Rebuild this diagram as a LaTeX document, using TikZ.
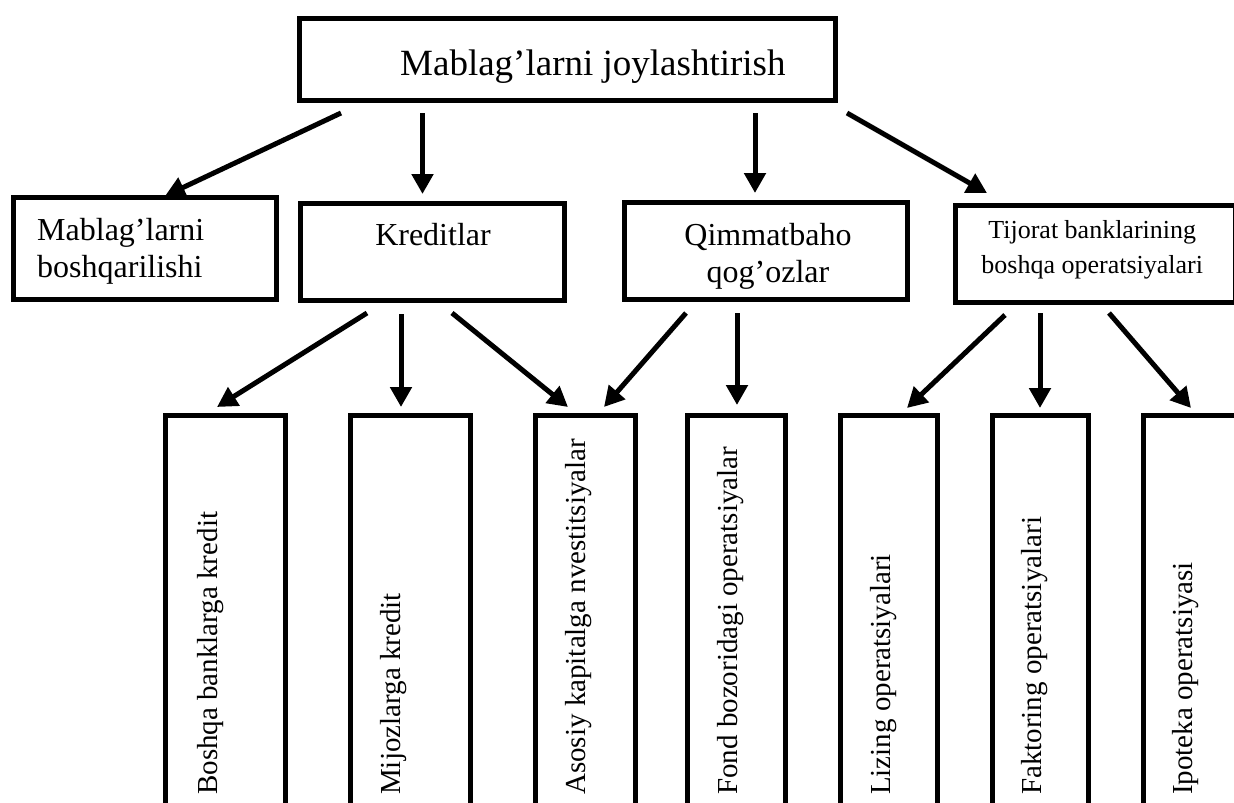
\documentclass[tikz,border=0pt]{standalone}
\usepackage{fontspec}
\setmainfont{Liberation Serif}
\usetikzlibrary{calc,arrows.meta}

\tikzset{
  box/.style={draw, line width=5pt, inner sep=0pt, outer sep=0pt},
  arr/.style={line width=5pt, -{Triangle[length=20pt,width=21pt]}},
  lbl/.style={inner sep=0pt, font=\fontsize{32}{36.8}\selectfont},
  side/.style={inner sep=0pt, rotate=90, anchor=base west, font=\fontsize{29}{33}\selectfont}
}

\begin{document}
\begin{tikzpicture}[x=1pt,y=-1pt]
		\clip (0,0) rectangle (1234,803);
		% top level
		\node[box, minimum width=536pt, minimum height=82pt] (top) at (567.5,59.5) {};
		\node[inner sep=0pt, anchor=base west, font=\fontsize{37}{44}\selectfont] (ttl) at ($(top.north west)+(100.5,56.5)$) {Mablag’larni joylashtirish};
		% second level
		\node[box, minimum width=263pt, minimum height=102pt] (mb) at (145,248.5) {};
		\node[box, minimum width=264pt, minimum height=97pt] (kred) at (432.5,252) {};
		\node[box, minimum width=283pt, minimum height=97pt] (qim) at (766,251) {};
		\node[box, minimum width=279.5pt, minimum height=97pt] (tij) at (1095.25,254) {};
		\node[lbl, anchor=north west, align=left] (mbt) at ($(mb.north west)+(23.5,20.6)$) {Mablag’larni\\boshqarilishi};
		\node[lbl, anchor=base] (kredt) at ($(kred.north)+(0.5,41.5)$) {Kreditlar};
		\node[lbl, anchor=north, align=center] (qimt) at ($(qim.north)+(2,20.6)$) {Qimmatbaho\\qog’ozlar};
		\node[lbl, anchor=north, align=center, font=\fontsize{26}{35}\selectfont] (tijt) at ($(tij.north)+(-3,14.7)$) {Tijorat banklarining\\boshqa operatsiyalari};
		% third level
		\node[box, minimum width=120pt, minimum height=414.5pt] (b1) at (225.5,622.75) {};
		\node[box, minimum width=120pt, minimum height=414.5pt] (b2) at (410.5,622.75) {};
		\node[box, minimum width=100pt, minimum height=414.5pt] (b3) at (585.5,622.75) {};
		\node[box, minimum width=98pt, minimum height=414.5pt] (b4) at (736.5,622.75) {};
		\node[box, minimum width=97pt, minimum height=414.5pt] (b5) at (889,622.75) {};
		\node[box, minimum width=96pt, minimum height=414.5pt] (b6) at (1040.5,622.75) {};
		\node[box, minimum width=97pt, minimum height=414.5pt] (b7) at (1192,622.75) {};
		\node[side] (b1t) at ($(b1.north west)+(51.5,379.5)$) {Boshqa banklarga kredit};
		\node[side] (b2t) at ($(b2.north west)+(49.5,379.5)$) {Mijozlarga kredit};
		\node[side] (b3t) at ($(b3.north west)+(49.5,379.5)$) {Asosiy kapitalga nvestitsiyalar};
		\node[side] (b4t) at ($(b4.north west)+(49.5,379.5)$) {Fond bozoridagi operatsiyalar};
		\node[side] (b5t) at ($(b5.north west)+(49.5,379.5)$) {Lizing operatsiyalari};
		\node[side] (b6t) at ($(b6.north west)+(48.5,379.5)$) {Faktoring operatsiyalari};
		\node[side] (b7t) at ($(b7.north west)+(48.5,379.5)$) {Ipoteka operatsiyasi};
		% arrows
		\draw[arr] ($(top.south)+(-226.5,12.5)$) -- ($(mb.north)+(20,-1.5)$);
		\draw[arr] ($(top.south)+(-145,12.5)$) -- ($(kred.north)+(-10,-9.5)$);
		\draw[arr] ($(top.south)+(187.5,12.5)$) -- ($(qim.north)+(-11,-9.5)$);
		\draw[arr] ($(top.south)+(279.5,12.5)$) -- ($(tij.north)+(-108.25,-12.5)$);
		\draw[arr] ($(kred.south)+(-65.5,12.5)$) -- ($(b1.north)+(-8.5,-8.5)$);
		\draw[arr] ($(kred.south)+(-31.5,13.5)$) -- ($(b2.north)+(-9.5,-8.5)$);
		\draw[arr] ($(kred.south)+(19.5,12.5)$) -- ($(b3.north)+(-17.5,-8.5)$);
		\draw[arr] ($(qim.south)+(-80,13.5)$) -- ($(b3.north)+(18.5,-8.5)$);
		\draw[arr] ($(qim.south)+(-29,13.5)$) -- ($(b4.north)+(0.5,-10.5)$);
		\draw[arr] ($(tij.south)+(-90.25,12.5)$) -- ($(b5.north)+(18,-7.5)$);
		\draw[arr] ($(tij.south)+(-55.25,10.5)$) -- ($(b6.north)+(-0.5,-7.5)$);
		\draw[arr] ($(tij.south)+(13.75,10.5)$) -- ($(b7.north)+(-1,-7.5)$);
		\end{tikzpicture}
\end{document}
